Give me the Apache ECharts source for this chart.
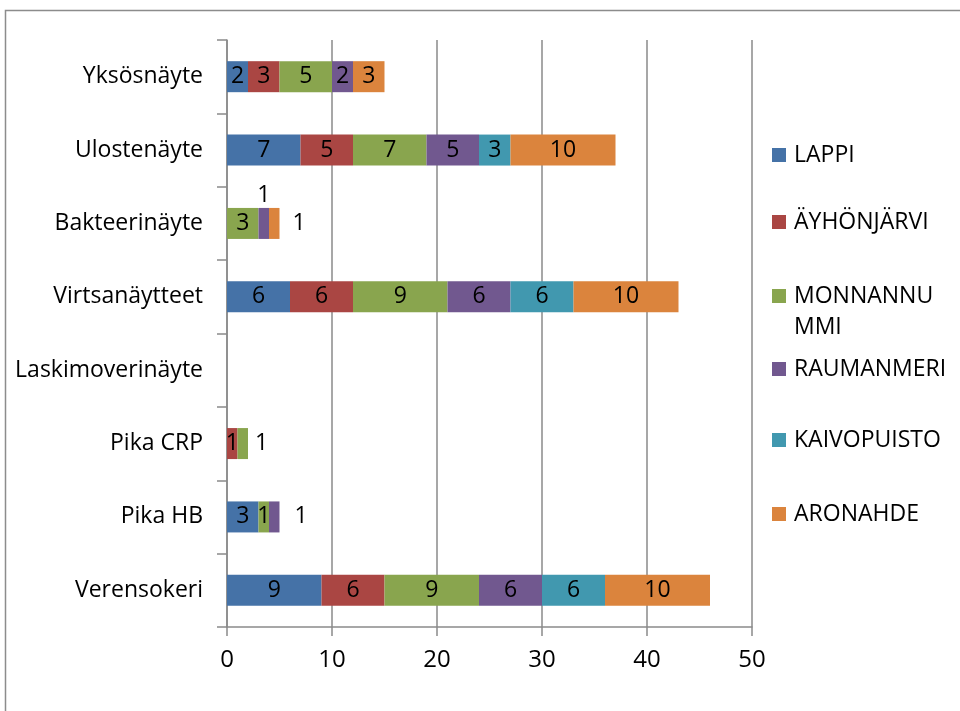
<!DOCTYPE html>
<html>
<head>
<meta charset="utf-8">
<script src="https://cdn.jsdelivr.net/npm/echarts@6/dist/echarts.min.js"></script>
<style>
  html, body { margin: 0; padding: 0; background: #fff; }
  #chart { width: 960px; height: 711px; }
</style>
</head>
<body>
<div id="chart"></div>
<script>
// Näytetyypit (ylhäältä alas)
const categories = ['Yksösnäyte', 'Ulostenäyte', 'Bakteerinäyte', 'Virtsanäytteet',
  'Laskimoverinäyte', 'Pika CRP', 'Pika HB', 'Verensokeri'];

// Yksiköt
const seriesNames = ['LAPPI', 'ÄYHÖNJÄRVI', 'MONNANNUMMI', 'RAUMANMERI', 'KAIVOPUISTO', 'ARONAHDE'];

// Näytemäärät yksiköittäin, samassa järjestyksessä kuin categories
const lappi       = [2, 7, 0, 6, 0, 0, 3, 9];
const ayhonjarvi  = [3, 5, 0, 6, 0, 1, 0, 6];
const monnannummi = [5, 7, 3, 9, 0, 1, 1, 9];
const raumanmeri  = [2, 5, 1, 6, 0, 0, 1, 6];
const kaivopuisto = [0, 3, 0, 6, 0, 0, 0, 6];
const aronahde    = [3, 10, 1, 10, 0, 0, 0, 10];

const xTicks = { min: 0, max: 50, interval: 10 };

const seriesValues = [lappi, ayhonjarvi, monnannummi, raumanmeri, kaivopuisto, aronahde];
const colors = ['#4572A7', '#AA4643', '#89A54E', '#71588F', '#4198AF', '#DB843D'];

// Kapeiden palkkien selitteet siirretään palkin ulkopuolelle
const labelOverrides = {
  '3-2': { position: 'top', distance: 1 },
  '5-2': { position: 'right', distance: 13 },
  '2-5': { position: 'right', distance: 7 },
  '3-6': { position: 'right', distance: 15 }
};

const font = '"Open Sans", sans-serif';
const gridLeft = 227, gridTop = 40, gridRight = 208, gridBottom = 84;

const series = seriesNames.map((name, s) => ({
  name,
  type: 'bar',
  stack: 'total',
  barWidth: 31,
  itemStyle: { color: colors[s] },
  label: {
    show: true,
    position: 'inside',
    color: '#000',
    fontFamily: font,
    fontSize: 23,
    formatter: p => (p.value ? String(p.value) : '')
  },
  data: seriesValues[s].map((v, i) => {
    const o = labelOverrides[s + '-' + i];
    return o ? { value: v, label: o } : v;
  })
}));

// Selitteet: yksi legend-komponentti kutakin sarjaa kohden (keskikohdan y)
const legendCenters = [155, 222, 296, 369, 440, 514];
const legends = seriesNames.map((name, s) => {
  const wrap = name === 'MONNANNUMMI';
  // Rivitetty nimi: tyhjä ensimmäinen rivi, jotta kuvake osuu ensimmäiselle tekstiriville
  const lh = wrap ? 31 : 26;
  const lines = wrap ? 3 : 1;
  return {
    data: [name],
    left: 772,
    top: legendCenters[s] - (lh * lines) / 2,
    orient: 'vertical',
    itemWidth: 14,
    itemHeight: 14,
    itemGap: 0,
    padding: 0,
    selectedMode: false,
    icon: 'rect',
    formatter: wrap ? ' \nMONNANNU\nMMI' : '{name}',
    textStyle: {
      fontFamily: font,
      fontSize: 23,
      color: '#000',
      lineHeight: lh,
      padding: [0, 0, 0, 3]
    }
  };
});

const chart = echarts.init(document.getElementById('chart'), null, { renderer: 'canvas' });
chart.setOption({
  backgroundColor: '#fff',
  animation: false,
  graphic: [{
    type: 'rect',
    shape: { x: 5.5, y: 10.5, width: 1000, height: 800 },
    style: { fill: 'none', stroke: '#8c8c8c', lineWidth: 1.5 },
    silent: true
  }],
  legend: legends,
  grid: { left: gridLeft, right: gridRight, top: gridTop, bottom: gridBottom, containLabel: false },
  xAxis: {
    type: 'value',
    min: xTicks.min,
    max: xTicks.max,
    interval: xTicks.interval,
    axisLine: { show: true, lineStyle: { color: '#8a8a8a', width: 1.5 } },
    axisTick: { show: true, length: 9, lineStyle: { color: '#8a8a8a', width: 1.5 } },
    splitLine: { show: true, lineStyle: { color: '#8a8a8a', width: 1.5 } },
    axisLabel: { color: '#000', fontFamily: font, fontSize: 24, margin: 21 }
  },
  yAxis: {
    type: 'category',
    inverse: true,
    data: categories,
    axisLine: { show: true, lineStyle: { color: '#8a8a8a', width: 1.5 } },
    axisTick: { show: true, length: 10, alignWithLabel: false, lineStyle: { color: '#8a8a8a', width: 1.5 } },
    axisLabel: { color: '#000', fontFamily: font, fontSize: 23, margin: 24 }
  },
  series
});
</script>
</body>
</html>
